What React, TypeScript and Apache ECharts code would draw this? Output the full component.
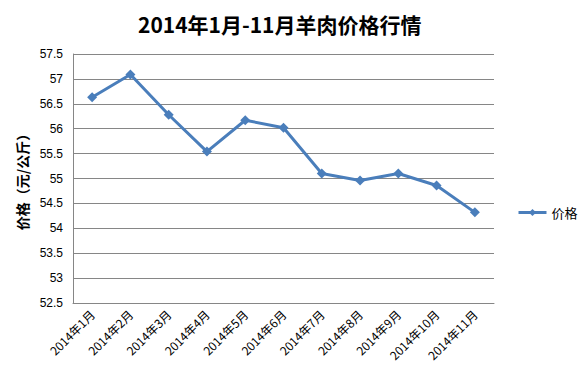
import React, { useEffect, useRef } from "react";
import * as echarts from "echarts";

const categories = [
  "2014年1月", "2014年2月", "2014年3月", "2014年4月", "2014年5月", "2014年6月",
  "2014年7月", "2014年8月", "2014年9月", "2014年10月", "2014年11月",
];
const prices = [56.63, 57.09, 56.28, 55.54, 56.17, 56.02, 55.1, 54.96, 55.1, 54.86, 54.32];
const seriesName = "价格";
const titleText = "2014年1月-11月羊肉价格行情";
const yAxisName = "价格（元/公斤）";

export default function App() {
  const ref = useRef<HTMLDivElement>(null);
  useEffect(() => {
    if (!ref.current) return;
    const chart = echarts.init(ref.current, null, { renderer: "svg" });
    const font = "'Liberation Sans', 'Noto Sans CJK SC', sans-serif";
    const cjk = "'Noto Sans CJK SC', sans-serif";
    chart.setOption({
      animation: false,
      backgroundColor: "#ffffff",
      title: {
        text: titleText,
        left: 133,
        top: 8,
        textStyle: { fontSize: 21, fontWeight: "bold", color: "#000", fontFamily: cjk },
      },
      grid: { left: 73, right: 86, top: 54, bottom: 73 },
      legend: {
        data: [seriesName],
        left: 512,
        top: 201,
        itemWidth: 28,
        itemHeight: 9,
        itemGap: 4,
        lineStyle: { width: 3, color: "#4a7ebb" },
        textStyle: { fontSize: 13, color: "#000", fontFamily: cjk },
      },
      xAxis: {
        type: "category",
        data: categories,
        boundaryGap: true,
        axisLine: { show: true, lineStyle: { color: "#868686", width: 1 } },
        axisTick: { show: false },
        axisLabel: {
          rotate: 45,
          interval: 0,
          fontSize: 12,
          color: "#000",
          fontFamily: cjk,
          margin: 9,
        },
      },
      yAxis: {
        type: "value",
        min: 52.5,
        max: 57.5,
        interval: 0.5,
        name: yAxisName,
        nameLocation: "middle",
        nameGap: 44,
        nameRotate: 90,
        nameTextStyle: { fontSize: 14, fontWeight: "bold", color: "#000", fontFamily: cjk },
        axisLine: { show: true, lineStyle: { color: "#868686", width: 1 } },
        axisTick: { show: false },
        splitLine: { show: true, lineStyle: { color: "#868686", width: 1 } },
        axisLabel: {
          fontSize: 12,
          color: "#000",
          fontFamily: font,
          margin: 10,
          formatter: (v: number) => String(v),
        },
      },
      series: [
        {
          name: seriesName,
          type: "line",
          data: prices,
          symbol: "diamond",
          symbolSize: 10,
          lineStyle: { color: "#4a7ebb", width: 3 },
          itemStyle: { color: "#4a7ebb" },
        },
      ],
    });
    return () => chart.dispose();
  }, []);
  return (
    <div
      ref={ref}
      style={{ position: "fixed", left: 0, top: 0, width: 580, height: 376 }}
    />
  );
}
